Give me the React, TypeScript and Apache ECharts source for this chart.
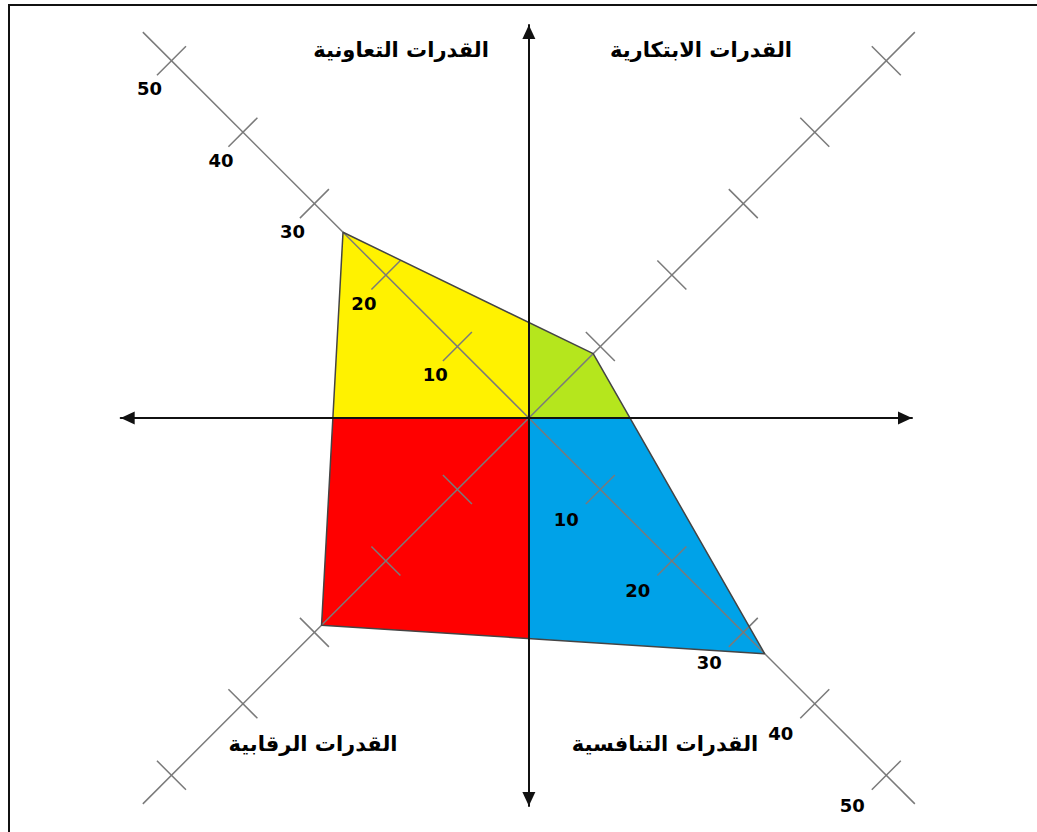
import React, { useEffect, useRef } from "react";
import * as echarts from "echarts";

// Axes (quadrant diagonals), in counter-clockwise order starting upper-right
const categories = [
  "القدرات الابتكارية",
  "القدرات التعاونية",
  "القدرات الرقابية",
  "القدرات التنافسية",
];
const values = [9, 26, 29, 33];
const tickValues = [10, 20, 30, 40, 50];
const labelledAxes = [1, 3];
const axisEnd = 54;

const DIRS = [
  [1, 1],
  [-1, 1],
  [-1, -1],
  [1, -1],
];
const FILLS = ["#B5E61D", "#FFF200", "#FF0000", "#00A2E8"];
const TITLE_POS = [
  [701, 50],
  [401, 50],
  [313, 744],
  [665, 744],
];
const LABEL_OFFSET: Record<number, number[]> = { 1: [-22, 28], 3: [-34, 30] };

export default function App() {
  const ref = useRef<HTMLDivElement>(null);

  useEffect(() => {
    const chart = echarts.init(ref.current!, null, { renderer: "svg" });
    const pts = values.map((v, i) => [DIRS[i][0] * v, DIRS[i][1] * v]);
    const cross = (i: number) => {
      const P = pts[i];
      const Q = pts[(i + 1) % 4];
      if (i % 2 === 0) {
        const t = P[0] / (P[0] - Q[0]);
        return [0, P[1] + t * (Q[1] - P[1])];
      }
      const t = P[1] / (P[1] - Q[1]);
      return [P[0] + t * (Q[0] - P[0]), 0];
    };

    const option: any = {
      animation: false,
      backgroundColor: "#ffffff",
      grid: { left: 120.7, right: 125, top: 25, bottom: 26 },
      xAxis: {
        type: "value",
        min: -57.1,
        max: 53.6,
        z: 10,
        axisLine: {
          onZero: true,
          symbol: ["triangle", "triangle"],
          symbolSize: [13, 14],
          symbolOffset: [7, -7],
          lineStyle: { color: "#111", width: 2 },
        },
        axisTick: { show: false },
        axisLabel: { show: false },
        splitLine: { show: false },
      },
      yAxis: {
        type: "value",
        min: -54.3,
        max: 55,
        z: 10,
        axisLine: {
          onZero: true,
          symbol: ["triangle", "triangle"],
          symbolSize: [13, 14],
          symbolOffset: [7, -7],
          lineStyle: { color: "#111", width: 2 },
        },
        axisTick: { show: false },
        axisLabel: { show: false },
        splitLine: { show: false },
      },
      series: [
        {
          type: "custom",
          name: "fill",
          clip: false,
          z: 2,
          data: categories.map((_, i) => [i]),
          renderItem: (_p: any, api: any) => {
            const i = api.value(0);
            const poly = [[0, 0], cross((i + 3) % 4), pts[i], cross(i)].map((p) => api.coord(p));
            return { type: "polygon", shape: { points: poly }, style: { fill: FILLS[i] } };
          },
        },
        {
          type: "custom",
          name: "diagonals",
          clip: false,
          z: 3,
          data: categories.map((_, i) => [i]),
          renderItem: (_p: any, api: any) => {
            const i = api.value(0);
            const [dx, dy] = DIRS[i];
            const o = api.coord([0, 0]);
            const e = api.coord([dx * axisEnd, dy * axisEnd]);
            const children: any[] = [
              {
                type: "line",
                shape: { x1: o[0], y1: o[1], x2: e[0], y2: e[1] },
                style: { stroke: "#7a7a7a", lineWidth: 1.5 },
              },
            ];
            const px = dy;
            const py = dx;
            tickValues.forEach((v) => {
              const c = api.coord([dx * v, dy * v]);
              children.push({
                type: "line",
                shape: { x1: c[0] - 14.5 * px, y1: c[1] - 14.5 * py, x2: c[0] + 14.5 * px, y2: c[1] + 14.5 * py },
                style: { stroke: "#7a7a7a", lineWidth: 1.5 },
              });
              if (labelledAxes.includes(i)) {
                const off = LABEL_OFFSET[i];
                children.push({
                  type: "text",
                  x: c[0] + off[0],
                  y: c[1] + off[1],
                  style: {
                    text: String(v),
                    fill: "#000",
                    fontFamily: "DejaVu Sans",
                    fontWeight: "bold",
                    fontSize: 18,
                    align: "center",
                    verticalAlign: "middle",
                  },
                });
              }
            });
            return { type: "group", children };
          },
        },
        {
          type: "line",
          name: "outline",
          z: 4,
          symbol: "none",
          data: [...pts, pts[0]],
          lineStyle: { color: "#444", width: 1.5 },
        },
      ],
      graphic: [
        {
          type: "rect",
          shape: { x: 9, y: 5, width: 1200, height: 1000 },
          style: { fill: "none", stroke: "#111", lineWidth: 2 },
          z: 20,
        },
        ...categories.map((c, i) => ({
          type: "text",
          x: TITLE_POS[i][0],
          y: TITLE_POS[i][1],
          z: 20,
          style: {
            text: c,
            fill: "#000",
            fontFamily: "DejaVu Sans",
            fontWeight: "bold",
            fontSize: 21,
            align: "center",
            verticalAlign: "middle",
          },
        })),
      ],
    };
    chart.setOption(option);
    return () => chart.dispose();
  }, []);

  return (
    <div
      ref={ref}
      style={{ position: "fixed", left: 0, top: 0, width: 1037, height: 832, background: "#fff" }}
    />
  );
}
